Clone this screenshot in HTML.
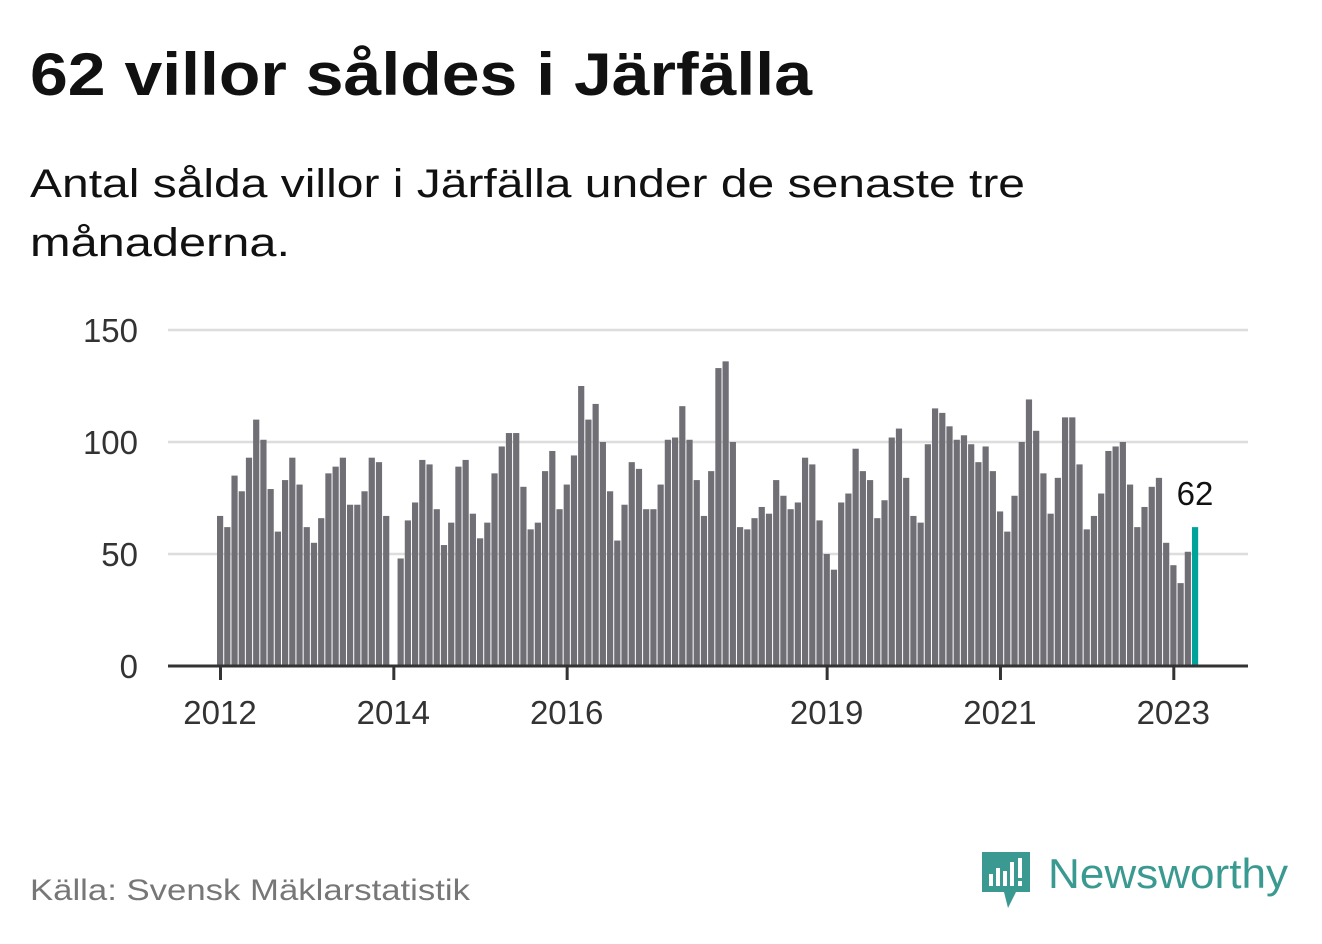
<!DOCTYPE html>
<html><head><meta charset="utf-8"><style>
body{margin:0;background:#fff;width:1322px;height:939px;overflow:hidden;font-family:"Liberation Sans",sans-serif;}
</style></head><body>
<svg width="1322" height="939" xmlns="http://www.w3.org/2000/svg">
<text x="30" y="95" font-size="60" font-weight="bold" fill="#111" textLength="782" lengthAdjust="spacingAndGlyphs">62 villor såldes i Järfälla</text>
<text x="30" y="197" font-size="40" fill="#111" textLength="995" lengthAdjust="spacingAndGlyphs">Antal sålda villor i Järfälla under de senaste tre</text>
<text x="30" y="256" font-size="40" fill="#111" textLength="260" lengthAdjust="spacingAndGlyphs">månaderna.</text>
<g id="grid"></g><g id="bars"></g><g id="axis"></g>
<text x="30" y="900" font-size="30" fill="#777" textLength="440" lengthAdjust="spacingAndGlyphs">Källa: Svensk Mäklarstatistik</text>
<g>
<path d="M982 852 h48 v40 h-14 l-8 16 l-4 -16 h-22 z" fill="#3a9a91"/>
<rect x="989" y="874" width="4" height="12" fill="#fff"/><rect x="996" y="868" width="4" height="18" fill="#fff"/><rect x="1003" y="871" width="4" height="15" fill="#fff"/><rect x="1010" y="862" width="4" height="24" fill="#fff"/><rect x="1018" y="858" width="4" height="20" fill="#fff"/><rect x="1018" y="881" width="4" height="5" fill="#fff"/>
<text x="1048" y="888" font-size="42" fill="#3a9a91" textLength="240" lengthAdjust="spacingAndGlyphs">Newsworthy</text>
</g>
</svg>
<script>
const years=[2012,2013,2014,2015,2016,2017,2018,2019,2020,2021,2022,2023];
const values=[67,62,85,78,93,110,101,79,60,83,93,81,
62,55,66,86,89,93,72,72,78,93,91,67,
0,48,65,73,92,90,70,54,64,89,92,68,
57,64,86,98,104,104,80,61,64,87,96,70,
81,94,125,110,117,100,78,56,72,91,88,70,
70,81,101,102,116,101,83,67,87,133,136,100,
62,61,66,71,68,83,76,70,73,93,90,65,
50,43,73,77,97,87,83,66,74,102,106,84,
67,64,99,115,113,107,101,103,99,91,98,87,
69,60,76,100,119,105,86,68,84,111,111,90,
61,67,77,96,98,100,81,62,71,80,84,55,
45,37,51,62];
const yTicks=[0,50,100,150];
const xTickYears=[2012,2014,2016,2019,2021,2023];
const NS="http://www.w3.org/2000/svg";
const x=i=>220+i*7.222, y=v=>666-v*2.24;
const g=document.getElementById('grid'),b=document.getElementById('bars'),a=document.getElementById('axis');
function mk(tag,attrs,parent,txt){const e=document.createElementNS(NS,tag);for(const k in attrs)e.setAttribute(k,attrs[k]);if(txt!==undefined)e.textContent=txt;parent.appendChild(e);return e;}
yTicks.forEach(t=>{
 if(t>0){const l=mk('line',{x1:168,x2:1248,y1:y(t),y2:y(t),stroke:'#ddd','stroke-width':2.5},g);
 
 }
 const tx=mk('text',{x:138,y:y(t)+12,'font-size':33,fill:'#333','text-anchor':'end'},g,String(t));
 
 
});
values.forEach((v,i)=>{
 const last=i===values.length-1;
 const r=mk('rect',{x:x(i)-3,y:y(v),width:6.2,height:v*2.24,fill:last?'#00a39a':'#706f75'},b);
 
 
 if(last){const lt=mk('text',{x:x(i),y:y(v)-22,'font-size':33,fill:'#111','text-anchor':'middle'},b,String(v));
 
 }
});
const ax=mk('line',{x1:168,x2:1248,y1:666,y2:666,stroke:'#333','stroke-width':3},a);


xTickYears.forEach(yr=>{
 const i=(yr-years[0])*12;
 const tk=mk('line',{x1:x(i)+0.5,x2:x(i)+0.5,y1:666,y2:680,stroke:'#333','stroke-width':3},a);
 
 
 const tl=mk('text',{x:x(i),y:724,'font-size':33,fill:'#333','text-anchor':'middle'},a,String(yr));
 
 
});
</script>
</body></html>
